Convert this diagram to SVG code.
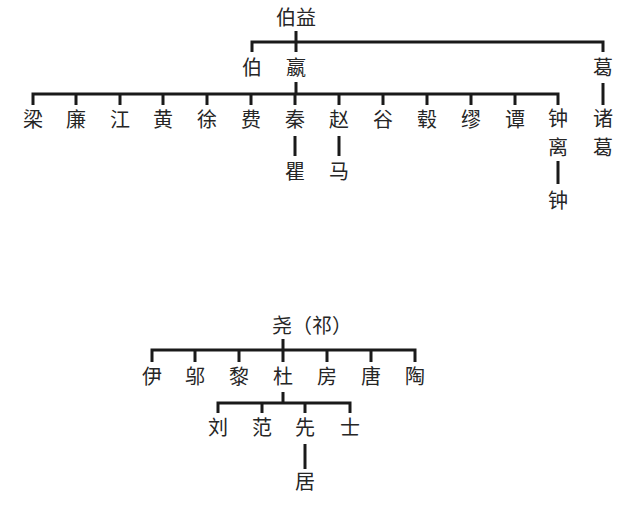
<svg xmlns="http://www.w3.org/2000/svg" width="640" height="515" viewBox="0 0 640 515">
<style>
text{font-family:"Noto Sans CJK SC","Noto Sans CJK TC",sans-serif;font-size:20px;fill:#262626;text-anchor:middle}
.c path{fill:none;stroke:#1a1a1a;stroke-width:3;stroke-linecap:butt}
</style>
<rect width="640" height="515" fill="#ffffff"/>
<g class="c" id="connectors">
<path d="M296 31V52M252 52V42H603V52"/>
<path d="M296 82V94M33 105V94H558V105M76 94V105M120 94V105M163 94V105M207 94V105M251 94V105M295 94V105M339 94V105M383 94V105M427 94V105M471 94V105M515 94V105"/>
<path d="M603 83V105"/>
<path d="M295 136V156M339 136V156M558 161V184"/>
<path d="M283 339V362M152 362V350H415V362M195 350V362M239 350V362M327 350V362M371 350V362"/>
<path d="M283 392V403M218 413V403H350V413M262 403V413M305 403V413"/>
<path d="M305 444V469"/>
</g>
<g id="n-boyi"><text x="296" y="25">伯益</text></g>
<g id="n-bo"><text x="252" y="75">伯</text></g>
<g id="n-ying"><text x="296" y="75">嬴</text></g>
<g id="n-ge"><text x="603" y="75">葛</text></g>
<g id="n-liang"><text x="33" y="127">梁</text></g>
<g id="n-lian"><text x="76" y="127">廉</text></g>
<g id="n-jiang"><text x="120" y="127">江</text></g>
<g id="n-huang"><text x="163" y="127">黄</text></g>
<g id="n-xu"><text x="207" y="127">徐</text></g>
<g id="n-fei"><text x="251" y="127">费</text></g>
<g id="n-qin"><text x="295" y="127">秦</text></g>
<g id="n-zhao"><text x="339" y="127">赵</text></g>
<g id="n-gu"><text x="383" y="127">谷</text></g>
<g id="n-gu2"><text x="427" y="127">毂</text></g>
<g id="n-miao"><text x="471" y="127">缪</text></g>
<g id="n-tan"><text x="515" y="127">谭</text></g>
<g id="n-zhongli"><text x="558" y="126">钟<tspan x="558" dy="29">离</tspan></text></g>
<g id="n-zhuge"><text x="603" y="126">诸<tspan x="603" dy="29">葛</tspan></text></g>
<g id="n-qu"><text x="295" y="179">瞿</text></g>
<g id="n-ma"><text x="339" y="179">马</text></g>
<g id="n-zhong"><text x="558" y="208">钟</text></g>
<g id="n-yao"><text x="272" y="333" style="text-anchor:start">尧（祁）</text></g>
<g id="n-yi"><text x="152" y="384">伊</text></g>
<g id="n-wu"><text x="195" y="384">邬</text></g>
<g id="n-li"><text x="239" y="384">黎</text></g>
<g id="n-du"><text x="283" y="384">杜</text></g>
<g id="n-fang"><text x="327" y="384">房</text></g>
<g id="n-tang"><text x="371" y="384">唐</text></g>
<g id="n-tao"><text x="415" y="384">陶</text></g>
<g id="n-liu"><text x="218" y="435">刘</text></g>
<g id="n-fan"><text x="262" y="435">范</text></g>
<g id="n-xian"><text x="305" y="435">先</text></g>
<g id="n-shi"><text x="350" y="435">士</text></g>
<g id="n-ju"><text x="305" y="489">居</text></g>
</svg>
